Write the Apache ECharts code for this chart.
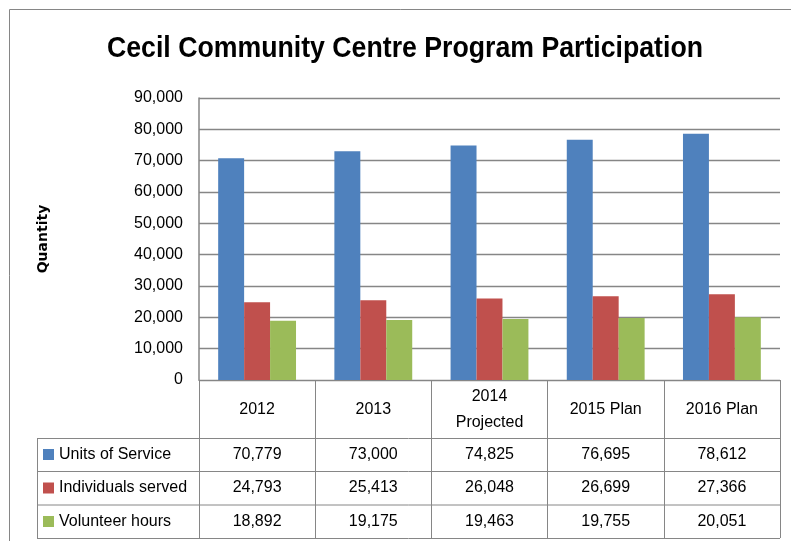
<!DOCTYPE html>
<html>
<head>
<meta charset="utf-8">
<script src="https://cdn.jsdelivr.net/npm/echarts@6/dist/echarts.min.js"></script>
<style>
html, body { margin: 0; padding: 0; background: #fff; }
#chart { width: 791px; height: 541px; }
</style>
</head>
<body>
<div id="chart"></div>
<script>
// data
var categories = ['2012', '2013', '2014\nProjected', '2015 Plan', '2016 Plan'];
var seriesNames = ['Units of Service', 'Individuals served', 'Volunteer hours'];
var unitsOfService = [70779, 73000, 74825, 76695, 78612];
var individualsServed = [24793, 25413, 26048, 26699, 27366];
var volunteerHours = [18892, 19175, 19463, 19755, 20051];
var colors = ['#4F81BD', '#C0504D', '#9BBB59'];
var titleText = 'Cecil Community Centre Program Participation';

var rows = [unitsOfService, individualsServed, volunteerHours];
var gray = '#868686';
var numFont = '"Liberation Sans", Arial, sans-serif';

function fmt(v) {
  return String(v).replace(/\B(?=(\d{3})+(?!\d))/g, ',');
}

// 表格: 每行一个隐藏的 x 轴，只用它的标签
var xAxes = [{
  type: 'category',
  data: categories,
  position: 'bottom',
  axisLine: { lineStyle: { color: gray, width: 1 } },
  axisTick: { show: true, length: 158, interval: 0, lineStyle: { color: gray } },
  axisLabel: {
    interval: 0, margin: 30, verticalAlign: 'middle',
    fontFamily: numFont, fontSize: 16, color: '#000', lineHeight: 26
  }
}];
var rowCenters = [454.5, 488, 521.5];
rows.forEach(function (arr, i) {
  xAxes.push({
    type: 'category',
    data: categories,
    position: 'bottom',
    offset: rowCenters[i] - 380,
    axisLine: { show: false },
    axisTick: { show: false },
    axisLabel: {
      interval: 0, margin: 0, verticalAlign: 'middle',
      fontFamily: numFont, fontSize: 16, color: '#000',
      formatter: function (v, idx) { return fmt(arr[idx]); }
    }
  });
});

var graphics = [];
[438.5, 471.5, 505, 538.5].forEach(function (y) {
  graphics.push({ type: 'line', shape: { x1: 37, y1: y, x2: 780, y2: y }, style: { stroke: gray, lineWidth: 1 } });
});
graphics.push({ type: 'line', shape: { x1: 37.5, y1: 438, x2: 37.5, y2: 539 }, style: { stroke: gray, lineWidth: 1 } });
// 外框
graphics.push({ type: 'rect', shape: { x: 9.5, y: 9.5, width: 800, height: 560 }, style: { fill: 'none', stroke: gray, lineWidth: 1 } });
// 标题 (字体收窄一点，接近 Calibri)
graphics.push({
  type: 'text', x: 405, y: 49, scaleX: 0.92,
  style: {
    text: titleText, align: 'center', verticalAlign: 'middle',
    font: 'bold 29px "Liberation Sans", Arial, sans-serif', fill: '#000'
  }
});

var chart = echarts.init(document.getElementById('chart'));
var option = {
  animation: false,
  color: colors,
  legend: {
    orient: 'vertical',
    left: 43,
    top: 444.5,
    padding: 0,
    itemGap: 13.5,
    itemWidth: 11,
    itemHeight: 11,
    icon: 'rect',
    data: seriesNames,
    textStyle: { fontFamily: numFont, fontSize: 16, color: '#000', lineHeight: 20 }
  },
  grid: { left: 199, right: 11, top: 98, bottom: 161, containLabel: false },
  xAxis: xAxes,
  yAxis: {
    type: 'value',
    min: 0, max: 90000, interval: 10000,
    name: 'Quantity',
    nameLocation: 'middle',
    nameRotate: 90,
    nameGap: 149,
    nameTextStyle: { fontFamily: '"DejaVu Sans", sans-serif', fontWeight: 'bold', fontSize: 14, color: '#000' },
    axisLine: { show: true, lineStyle: { color: gray, width: 1.5 } },
    axisTick: { show: false },
    axisLabel: { margin: 16, fontFamily: numFont, fontSize: 16, color: '#000', formatter: fmt },
    splitLine: { lineStyle: { color: gray, width: 1.3 } }
  },
  graphic: graphics,
  series: rows.map(function (arr, i) {
    return {
      name: seriesNames[i],
      type: 'bar',
      data: arr,
      barGap: '0%',
      barCategoryGap: '33%'
    };
  })
};
chart.setOption(option);
</script>
</body>
</html>
